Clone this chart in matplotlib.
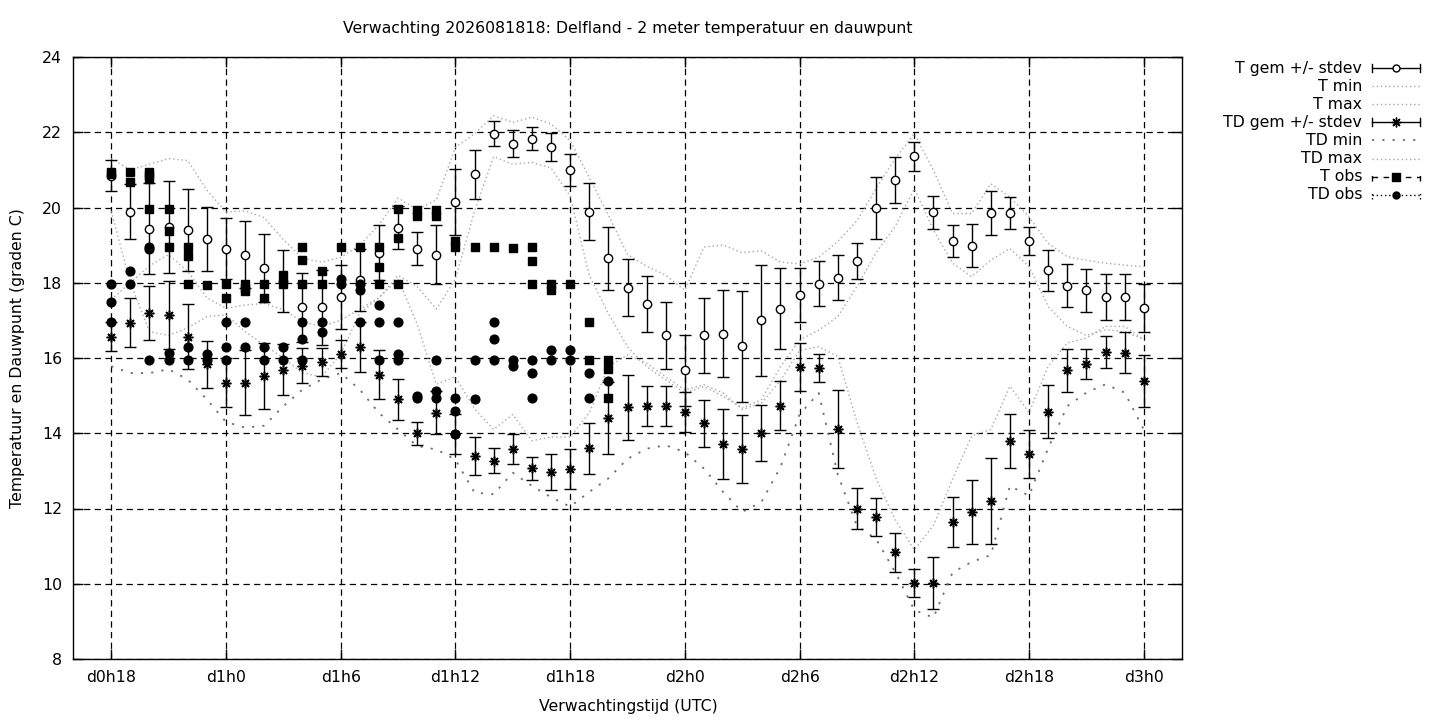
import numpy as np
import matplotlib.pyplot as plt
from matplotlib.lines import Line2D

# verwachtingsuren (uren sinds d0h0)
hours = np.arange(18, 73)

t_gem = [20.85, 19.89, 19.44, 19.48, 19.40, 19.17, 18.91, 18.75, 18.39, 18.05,
         17.35, 17.35, 17.62, 18.07, 18.80, 19.46, 18.91, 18.75, 20.15, 20.88,
         21.96, 21.70, 21.83, 21.60, 20.99, 19.89, 18.65, 17.87, 17.44, 16.60,
         15.67, 16.60, 16.65, 16.31, 17.00, 17.31, 17.68, 17.97, 18.13, 18.58,
         19.99, 20.73, 21.36, 19.87, 19.11, 18.99, 19.85, 19.85, 19.11, 18.33,
         17.92, 17.80, 17.62, 17.62, 17.33]
t_sd = [0.40, 0.74, 1.20, 1.23, 1.10, 0.85, 0.82, 0.90, 0.90, 0.83,
        0.92, 1.00, 0.86, 0.83, 0.73, 0.57, 0.43, 0.78, 0.87, 0.66,
        0.33, 0.35, 0.31, 0.37, 0.42, 0.76, 0.83, 0.75, 0.75, 0.88,
        0.95, 1.00, 1.15, 1.47, 1.47, 1.08, 0.72, 0.60, 0.60, 0.47,
        0.83, 0.60, 0.38, 0.43, 0.43, 0.58, 0.58, 0.42, 0.37, 0.55,
        0.57, 0.57, 0.62, 0.62, 0.64]
td_gem = [16.57, 16.94, 17.20, 17.15, 16.57, 15.83, 15.34, 15.34, 15.52, 15.69,
          15.80, 15.89, 16.10, 16.29, 15.56, 14.90, 14.00, 14.55, 13.97, 13.40,
          13.27, 13.58, 13.07, 12.96, 13.05, 13.60, 14.41, 14.69, 14.73, 14.73,
          14.56, 14.26, 13.72, 13.59, 14.00, 14.73, 15.76, 15.73, 14.11, 12.00,
          11.78, 10.84, 10.02, 10.02, 11.64, 11.90, 12.20, 13.79, 13.45, 14.57,
          15.67, 15.84, 16.16, 16.14, 15.39]
td_sd = [0.38, 0.66, 0.72, 0.90, 0.87, 0.62, 0.65, 0.86, 0.88, 0.68,
         0.46, 0.37, 0.37, 0.66, 0.64, 0.55, 0.30, 0.57, 0.53, 0.50,
         0.33, 0.39, 0.31, 0.48, 0.53, 0.67, 0.96, 0.86, 0.53, 0.53,
         0.53, 0.62, 0.93, 0.90, 0.75, 0.65, 0.63, 0.37, 1.03, 0.55,
         0.50, 0.52, 0.37, 0.70, 0.67, 0.85, 1.14, 0.71, 0.63, 0.70,
         0.58, 0.40, 0.42, 0.55, 0.70]

t_min = [19.9, 18.0, 16.7, 16.6, 16.8, 17.1, 17.15, 16.7, 16.35, 16.0,
         15.6, 15.5, 16.1, 17.2, 17.6, 18.2, 17.9, 17.3, 18.1, 19.9,
         21.35, 21.15, 21.2, 21.05, 20.3, 18.2, 17.18, 16.3, 15.77, 15.42,
         15.07, 15.24, 14.98, 14.67, 14.89, 15.77, 16.48, 16.74, 17.1, 17.9,
         18.8, 19.5, 20.5, 19.4, 18.52, 18.16, 18.6, 18.91, 18.43, 17.37,
         16.84, 16.6, 16.75, 16.7, 16.5]
t_max = [21.3, 21.0, 21.15, 21.3, 21.25, 20.46, 19.88, 19.91, 19.73, 19.15,
         18.65, 18.55, 18.67, 19.0, 19.53, 20.25, 19.95, 20.2, 21.6, 21.96,
         22.44, 22.26, 22.4, 22.22, 21.78, 20.8, 19.8, 18.75, 18.44, 18.2,
         17.8, 18.95, 19.0, 18.8, 18.85, 18.55, 18.5, 18.68, 19.1, 19.65,
         20.5, 21.3, 21.96, 20.99, 19.84, 19.84, 20.63, 20.28, 19.75, 19.05,
         18.69, 18.6, 18.52, 18.47, 18.43]
td_min = [15.78, 15.6, 15.6, 15.7, 15.43, 14.9, 14.3, 14.15, 14.2, 14.72,
          15.16, 15.43, 15.6, 15.16, 14.54, 14.1, 13.66, 13.57, 13.3, 12.42,
          12.38, 12.95, 12.6, 12.3, 12.05, 12.44, 12.8, 13.32, 13.59, 13.68,
          13.5, 13.06, 12.44, 11.91, 12.17, 13.1, 14.5, 15.07, 12.9, 11.54,
          11.19, 10.31, 9.3, 9.1, 10.3, 10.58, 10.76, 12.6, 12.34, 13.6,
          14.72, 15.08, 15.3, 15.08, 14.1]
td_max = [17.55, 18.0, 18.45, 18.75, 18.3, 17.6, 17.32, 17.41, 17.45, 17.28,
          16.97, 16.84, 17.0, 17.3, 17.6, 18.1, 16.9, 15.3, 15.5, 14.65,
          14.1, 14.5, 13.8, 13.9, 13.9, 14.54, 15.77, 16.08, 15.86, 15.5,
          15.15, 15.29, 15.07, 14.63, 14.8, 15.4, 16.2, 16.3, 16.04, 14.3,
          12.8, 11.7, 10.9, 11.55, 12.78, 13.93, 14.1, 15.25, 14.55, 15.78,
          16.4, 16.53, 16.84, 16.84, 16.49]

# waarnemingen (meerdere stations per uur)
t_obs_hour = [18, 18, 19, 19, 20, 20, 20, 20, 21, 21, 21, 22, 22, 22, 23, 24, 24,
              25, 25, 25, 26, 26, 27, 27, 28, 28, 28, 29, 29, 30, 31, 32, 32, 32,
              33, 33, 33, 34, 34, 35, 35, 36, 36, 37, 38, 39, 40, 40, 40, 41, 41,
              42, 43, 43, 44, 44, 44]
t_obs_value = [20.95, 20.88, 20.95, 20.68, 20.95, 20.86, 20.77, 19.95, 19.95, 19.38,
               18.94, 18.94, 18.70, 17.96, 17.93, 17.96, 17.60, 17.96, 17.86, 17.78,
               17.96, 17.60, 18.20, 17.96, 18.94, 18.60, 17.96, 18.30, 17.96, 18.96,
               18.96, 18.94, 18.42, 17.96, 19.96, 19.20, 17.96, 19.93, 19.78, 19.93,
               19.78, 19.10, 18.95, 18.96, 18.96, 18.92, 18.94, 18.59, 17.96, 17.96,
               17.80, 17.98, 16.97, 15.95, 15.95, 15.70, 14.94]
td_obs_hour = [18, 18, 18, 19, 19, 20, 20, 20, 21, 21, 22, 22, 23, 23, 24, 24, 24,
               25, 25, 26, 26, 27, 27, 28, 28, 28, 29, 29, 30, 30, 31, 31, 31,
               32, 32, 32, 33, 33, 33, 34, 34, 35, 35, 35, 36, 36, 36, 37, 37,
               38, 38, 38, 39, 39, 40, 40, 40, 41, 41, 42, 42, 43, 43, 44]
td_obs_value = [17.96, 17.50, 16.96, 18.30, 17.96, 18.95, 18.90, 15.96, 16.12, 15.96,
                16.29, 15.96, 16.10, 15.96, 16.96, 16.29, 15.96, 16.96, 16.29, 16.29,
                15.96, 16.29, 15.96, 16.96, 16.50, 15.96, 16.96, 16.69, 18.09, 17.96,
                17.98, 17.80, 16.96, 17.41, 16.96, 15.96, 16.96, 16.10, 15.96, 14.99,
                14.93, 15.96, 15.11, 14.93, 14.94, 14.59, 13.97, 15.96, 14.92, 16.96,
                16.50, 15.96, 15.96, 15.79, 15.96, 15.60, 14.94, 16.22, 15.96, 16.22,
                15.96, 15.60, 14.93, 15.39]

tick_hours = [18, 24, 30, 36, 42, 48, 54, 60, 66, 72]
tick_labels = ['d0h18', 'd1h0', 'd1h6', 'd1h12', 'd1h18', 'd2h0', 'd2h6', 'd2h12', 'd2h18', 'd3h0']

plt.rcParams['font.family'] = 'DejaVu Sans'
plt.rcParams['font.size'] = 11.3

W, H = 1440, 720
fig = plt.figure(figsize=(W / 100, H / 100), dpi=100)
ax = fig.add_axes([73 / W, 1 - 659 / H, (1182 - 73) / W, (659 - 57) / H])

light = '#a8a8a8'
dark = '#6e6e6e'
fine_dot = (0, (1, 2))
sparse_dot = (0, (1.2, 4.5))

ax.plot(hours, t_min, color=light, lw=1, ls=fine_dot, zorder=2)
ax.plot(hours, t_max, color=light, lw=1, ls=fine_dot, zorder=2)
ax.plot(hours, td_min, color=dark, lw=1.3, ls=sparse_dot, zorder=2)
ax.plot(hours, td_max, color=light, lw=1, ls=fine_dot, zorder=2)

ax.errorbar(hours, t_gem, yerr=t_sd, fmt='o', mfc='white', mec='black', mew=1,
            ms=6, ecolor='black', elinewidth=1, capsize=4, capthick=1, zorder=4)
ax.errorbar(hours, td_gem, yerr=td_sd, fmt='none', ecolor='black', elinewidth=1,
            capsize=4, capthick=1, zorder=4)
ax.plot(hours, td_gem, ls='none', marker=(8, 2, 0), ms=7, mec='black', mew=1.1, zorder=5)

ax.plot(t_obs_hour, t_obs_value, ls='none', marker='s', ms=6.3, color='black', zorder=5)
ax.plot(td_obs_hour, td_obs_value, ls='none', marker='o', ms=6.3, color='black', zorder=5)

ax.set_xlim(16, 74)
ax.set_ylim(8, 24)
ax.set_xticks(tick_hours)
ax.set_xticklabels(tick_labels)
ax.set_yticks(np.arange(8, 25, 2))
ax.tick_params(direction='in', length=7, width=1, top=True, right=True, pad=8)
ax.grid(True, color='black', lw=0.9, ls=(0, (5, 3.5)))
ax.set_axisbelow(True)
for s in ax.spines.values():
    s.set_linewidth(1)

fig.text(628 / W, 1 - 28 / H, 'Verwachting 2026081818: Delfland - 2 meter temperatuur en dauwpunt',
         ha='center', va='center')
fig.text(628 / W, 1 - 706 / H, 'Verwachtingstijd (UTC)', ha='center', va='center')
fig.text(18 / W, 1 - 358 / H, 'Temperatuur en Dauwpunt (graden C)', ha='center', va='center',
         rotation=90)

# legenda rechts buiten de grafiek
legend_rows = [
    ('T gem +/- stdev', 'solid', 'black', 'o', 'white', True),
    ('T min', fine_dot, light, None, None, False),
    ('T max', fine_dot, light, None, None, False),
    ('TD gem +/- stdev', 'solid', 'black', (8, 2, 0), 'black', True),
    ('TD min', sparse_dot, dark, None, None, False),
    ('TD max', fine_dot, light, None, None, False),
    ('T obs', (0, (4, 4)), 'black', 's', 'black', True),
    ('TD obs', (0, (1, 2)), 'black', 'o', 'black', True),
]
x0, x1 = 1372, 1420
for i, (label, ls, col, mk, mfc, caps) in enumerate(legend_rows):
    yp = 68 + i * 18.1
    fy = 1 - yp / H
    fig.text(1362 / W, fy, label, ha='right', va='center')
    lw = 1.3 if col == dark else 1
    fig.add_artist(Line2D([x0 / W, x1 / W], [fy, fy], transform=fig.transFigure,
                          color=col, lw=lw, ls=ls))
    if caps:
        for xc in (x0, x1):
            fig.add_artist(Line2D([xc / W, xc / W], [fy - 4 / H, fy + 4 / H],
                                  transform=fig.transFigure, color='black', lw=1,
                                  ls=ls))
        ms = 7 if isinstance(mk, tuple) else (5 if mk == 'o' else 6)
        fig.add_artist(Line2D([(x0 + x1) / 2 / W], [fy], transform=fig.transFigure,
                              ls='none', marker=mk, ms=ms, mfc=mfc, mec='black', mew=1))

fig.savefig('out.png', dpi=100)
